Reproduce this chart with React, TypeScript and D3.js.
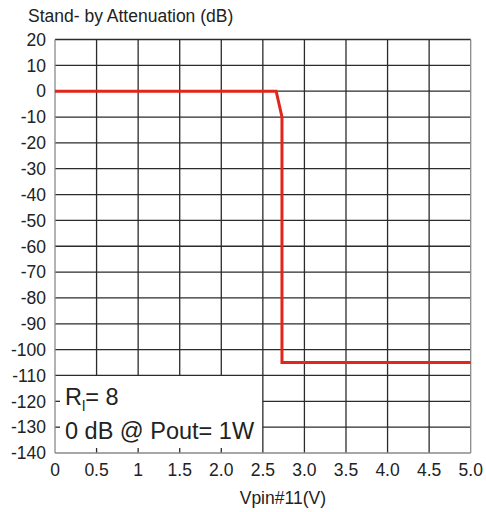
import * as d3 from "d3";
import React from "react";

const xTicks = [0, 0.5, 1, 1.5, 2.0, 2.5, 3.0, 3.5, 4.0, 4.5, 5.0];
const xTickLabels = ["0", "0.5", "1", "1.5", "2.0", "2.5", "3.0", "3.5", "4.0", "4.5", "5.0"];
const yTicks = [20, 10, 0, -10, -20, -30, -40, -50, -60, -70, -80, -90, -100, -110, -120, -130, -140];

// attenuation curve: Vpin#11 (V) vs dB
const curveX = [0, 2.66, 2.73, 2.73, 5.0];
const curveY = [0, 0, -10, -105, -105];

const title = "Stand- by Attenuation (dB)";
const xTitle = "Vpin#11(V)";

export default function App() {
  const width = 486;
  const height = 512;
  const marginLeft = 55;
  const marginRight = 15.3;
  const marginTop = 39.5;
  const marginBottom = 59;

  const x = d3.scaleLinear([0, 5], [marginLeft, width - marginRight]);
  const y = d3.scaleLinear([-140, 20], [height - marginBottom, marginTop]);

  // note box in lower-left corner hides the grid
  const boxX = 2.5;
  const boxY = -110;

  const pts = curveX.map((v, i) => [v, curveY[i]] as [number, number]);
  const line = d3
    .line<[number, number]>()
    .x((d) => x(d[0]))
    .y((d) => y(d[1]));

  const font = "'Liberation Sans', Arial, sans-serif";
  const grid = "#2b2b2b";
  const axis = "#8a8a8a";

  return (
    <svg
      width={width}
      height={height}
      style={{ position: "absolute", left: 0, top: 0, background: "#fff" }}
      fontFamily={font}
    >
      {/* horizontal grid */}
      {yTicks.slice(1, -1).map((v) => (
        <line
          key={"h" + v}
          x1={v < boxY ? x(boxX) : x(0)}
          x2={x(5)}
          y1={y(v)}
          y2={y(v)}
          stroke={grid}
          strokeWidth={1.3}
        />
      ))}
      <line x1={x(0)} x2={x(5)} y1={y(20)} y2={y(20)} stroke={grid} strokeWidth={1.3} />
      {/* vertical grid */}
      {xTicks.slice(1, -1).map((v) => (
        <line
          key={"v" + v}
          x1={x(v)}
          x2={x(v)}
          y1={y(20)}
          y2={v < boxX ? y(boxY) : y(-140)}
          stroke={grid}
          strokeWidth={1.3}
        />
      ))}
      {/* small ticks inside the note box */}
      {xTicks.filter((v) => v > 0 && v < boxX).map((v) => (
        <line key={"bt" + v} x1={x(v)} x2={x(v)} y1={y(-140)} y2={y(-140) - 5} stroke={grid} strokeWidth={1.3} />
      ))}
      {yTicks.filter((v) => v < boxY && v > -140).map((v) => (
        <line key={"lt" + v} x1={x(0)} x2={x(0) + 5} y1={y(v)} y2={y(v)} stroke={grid} strokeWidth={1.3} />
      ))}
      {/* frame */}
      <line x1={x(0)} x2={x(0)} y1={y(20)} y2={y(-140)} stroke={axis} strokeWidth={1.3} />
      <line x1={x(5)} x2={x(5)} y1={y(20)} y2={y(-140)} stroke={axis} strokeWidth={1.3} />
      <line x1={x(0)} x2={x(5)} y1={y(-140)} y2={y(-140)} stroke={axis} strokeWidth={1.3} />

      {/* curve */}
      <path d={line(pts) ?? ""} fill="none" stroke="#e1261c" strokeWidth={3} strokeLinejoin="miter" />

      {/* y labels */}
      <g fontSize={17.5} fill="#222" textAnchor="end">
        {yTicks.map((v) => (
          <text key={"yl" + v} x={x(0) - 9} y={y(v)} dy="0.36em">
            {v}
          </text>
        ))}
      </g>
      {/* x labels */}
      <g fontSize={17.5} fill="#222" textAnchor="middle">
        {xTicks.map((v, i) => (
          <text key={"xl" + v} x={x(v)} y={y(-140) + 17} dy="0.36em">
            {xTickLabels[i]}
          </text>
        ))}
      </g>
      <text x={28} y={22} fontSize={17.5} fill="#222">
        {title}
      </text>
      <text x={(x(0) + x(5)) / 2 + 20} y={504} fontSize={17.5} fill="#222" textAnchor="middle">
        {xTitle}
      </text>

      {/* note */}
      <g fontSize={23.5} fill="#222">
        <text x={65} y={405}>
          R<tspan fontSize={15} dy={6}>l</tspan>
          <tspan dy={-6}>= 8</tspan>
        </text>
        <text x={65} y={438.5}>0 dB @ Pout= 1W</text>
      </g>
    </svg>
  );
}
